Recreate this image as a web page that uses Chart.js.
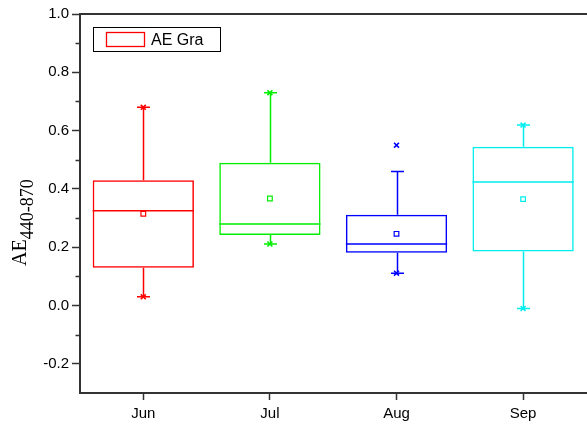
<!DOCTYPE html>
<html>
<head>
<meta charset="utf-8">
<script src="https://cdn.jsdelivr.net/npm/chart.js@4.4.1/dist/chart.umd.min.js"></script>
<style>
  html, body { margin: 0; padding: 0; background: #fff; overflow: hidden; }
  canvas { display: block; }
</style>
</head>
<body>
<canvas id="c" width="592" height="427"></canvas>
<script>
// Monthly box statistics of the Ångström exponent (440-870 nm)
const months = ['Jun', 'Jul', 'Aug', 'Sep'];
const boxColors = ['#ff0000', '#00ee00', '#0000ff', '#00eeee'];
const q1Values = [0.13, 0.242, 0.181, 0.185];
const q3Values = [0.43, 0.49, 0.311, 0.545];
const medianValues = [0.325, 0.28, 0.211, 0.424];
const meanValues = [0.315, 0.367, 0.246, 0.365];
const whiskerLow = [0.03, 0.211, 0.111, -0.01];
const whiskerHigh = [0.68, 0.73, 0.46, 0.619];
const minValues = [0.03, 0.211, 0.111, -0.01];
const maxValues = [0.68, 0.73, 0.55, 0.619];
const yTickValues = [-0.2, 0.0, 0.2, 0.4, 0.6, 0.8, 1.0];
const yMinorValues = [-0.1, 0.1, 0.3, 0.5, 0.7, 0.9];
const legendLabel = 'AE Gra';

const axisColor = '#333333';
const tickFont = { family: '"Liberation Sans", Arial, sans-serif', size: 15 };

// whiskers, caps, medians, minor ticks, frame, legend and the axis title
const boxExtras = {
  id: 'boxExtras',
  beforeDatasetsDraw(chart) {
    const { ctx, scales: { x, y } } = chart;
    const bars = chart.getDatasetMeta(0).data;
    ctx.save();
    ctx.lineWidth = 1.5;
    months.forEach((m, i) => {
      const cx = Math.round(x.getPixelForValue(i)) + 0.5;
      const bar = bars[i];
      const half = bar.width / 2;
      ctx.strokeStyle = boxColors[i];
      ctx.beginPath();
      // upper whisker
      ctx.moveTo(cx, y.getPixelForValue(q3Values[i]));
      ctx.lineTo(cx, y.getPixelForValue(whiskerHigh[i]));
      // lower whisker
      ctx.moveTo(cx, y.getPixelForValue(q1Values[i]));
      ctx.lineTo(cx, y.getPixelForValue(whiskerLow[i]));
      // caps
      const yh = y.getPixelForValue(whiskerHigh[i]);
      const yl = y.getPixelForValue(whiskerLow[i]);
      ctx.moveTo(cx - 6.5, yh); ctx.lineTo(cx + 6.5, yh);
      ctx.moveTo(cx - 6.5, yl); ctx.lineTo(cx + 6.5, yl);
      // median
      const ym = y.getPixelForValue(medianValues[i]);
      ctx.moveTo(bar.x - half, ym); ctx.lineTo(bar.x + half, ym);
      ctx.stroke();
    });
    ctx.restore();
  },
  afterDraw(chart) {
    const { ctx, chartArea: a, scales: { y } } = chart;
    ctx.save();
    // minor ticks on the value axis
    ctx.strokeStyle = axisColor;
    ctx.lineWidth = 1.5;
    ctx.beginPath();
    yMinorValues.forEach(v => {
      const py = Math.round(y.getPixelForValue(v)) + 0.5;
      ctx.moveTo(a.left - 4.5, py); ctx.lineTo(a.left, py);
    });
    ctx.stroke();
    // top frame line
    ctx.lineWidth = 2;
    ctx.beginPath();
    ctx.moveTo(a.left - 1, a.top); ctx.lineTo(chart.width, a.top);
    ctx.stroke();

    // legend
    ctx.lineWidth = 1;
    ctx.strokeStyle = '#000';
    ctx.strokeRect(93.5, 27.5, 127, 24);
    ctx.strokeStyle = boxColors[0];
    ctx.lineWidth = 1.3;
    ctx.strokeRect(106.5, 32.5, 38, 14);
    ctx.fillStyle = '#000';
    ctx.font = '16px "Liberation Sans", Arial, sans-serif';
    ctx.textBaseline = 'alphabetic';
    ctx.textAlign = 'left';
    ctx.fillText(legendLabel, 151, 45);

    // axis title: AE with subscript 440-870
    ctx.translate(26, 266);
    ctx.rotate(-Math.PI / 2);
    ctx.font = '20px "Liberation Serif", "Times New Roman", serif';
    ctx.fillText('AE', 0, 0);
    const w = ctx.measureText('AE').width;
    ctx.font = '18px "Liberation Serif", "Times New Roman", serif';
    ctx.fillText('440-870', w, 7);
    ctx.restore();
  }
};

const chart = new Chart(document.getElementById('c'), {
  type: 'bar',
  data: {
    labels: months,
    datasets: [
      {
        label: legendLabel,
        data: months.map((m, i) => [q1Values[i], q3Values[i]]),
        backgroundColor: 'rgba(0,0,0,0)',
        borderColor: boxColors,
        borderWidth: 1.5,
        borderSkipped: false,
        barPercentage: 0.8,
        categoryPercentage: 1.0,
        order: 3
      },
      {
        type: 'line',
        label: 'mean',
        data: meanValues,
        showLine: false,
        pointStyle: 'rect',
        pointRadius: 3.3,
        pointBorderWidth: 1.2,
        pointBackgroundColor: '#fff',
        pointBorderColor: boxColors,
        order: 1
      },
      {
        type: 'line',
        label: 'max',
        data: maxValues,
        showLine: false,
        pointStyle: 'crossRot',
        pointRadius: 3.5,
        pointBorderWidth: 1.6,
        pointBorderColor: boxColors,
        order: 1
      },
      {
        type: 'line',
        label: 'min',
        data: minValues,
        showLine: false,
        pointStyle: 'crossRot',
        pointRadius: 3.5,
        pointBorderWidth: 1.6,
        pointBorderColor: boxColors,
        order: 1
      }
    ]
  },
  options: {
    responsive: false,
    animation: false,
    events: [],
    layout: { padding: { top: 14, right: 1, left: 0, bottom: 0 } },
    plugins: { legend: { display: false }, tooltip: { enabled: false } },
    scales: {
      x: {
        offset: true,
        grid: {
          display: true, drawOnChartArea: false, drawTicks: true,
          tickLength: 7, tickWidth: 1.5, tickColor: axisColor, offset: false
        },
        border: { display: true, color: axisColor, width: 2 },
        ticks: { color: '#000', padding: 5, font: tickFont },
        afterFit(s) { s.height = 34; }
      },
      y: {
        min: -0.3,
        max: 1.0,
        afterBuildTicks(s) { s.ticks = yTickValues.map(v => ({ value: v })); },
        grid: {
          display: true, drawOnChartArea: false, drawTicks: true,
          tickLength: 8, tickWidth: 1.5, tickColor: axisColor
        },
        border: { display: true, color: axisColor, width: 2 },
        ticks: {
          color: '#000', padding: 3, font: tickFont,
          callback: v => Number(v).toFixed(1)
        },
        afterFit(s) { s.width = 80; }
      }
    }
  },
  plugins: [boxExtras]
});
</script>
</body>
</html>
